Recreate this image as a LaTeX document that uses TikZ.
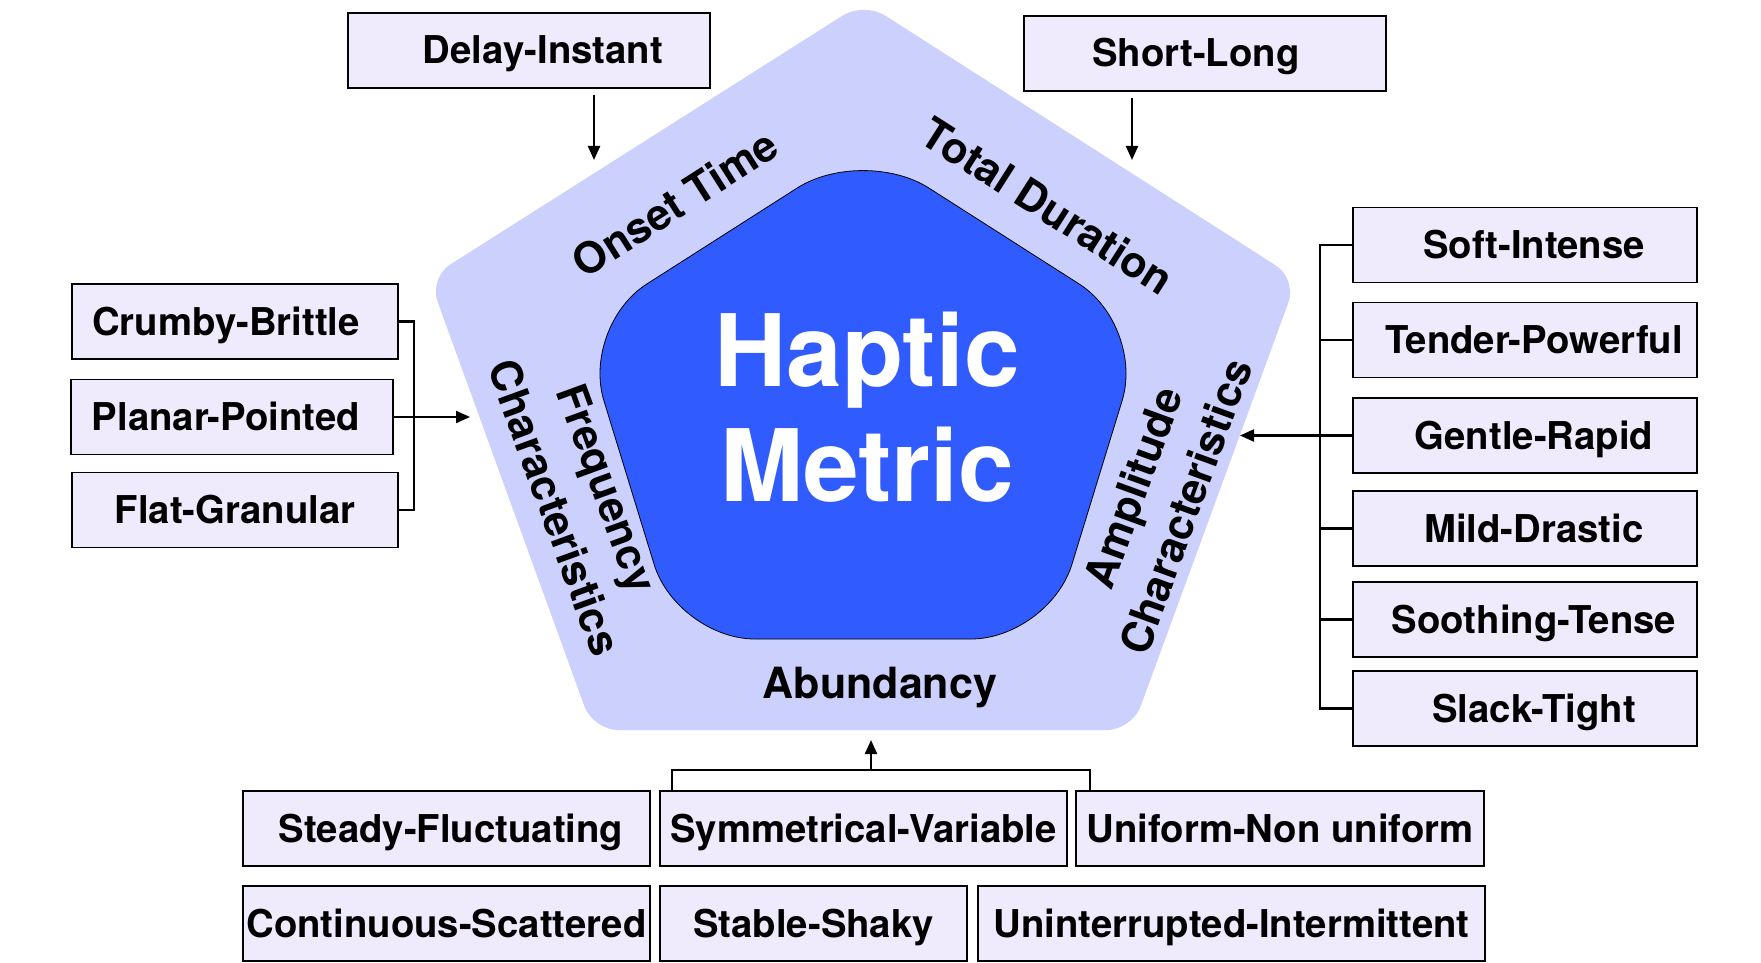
\documentclass[tikz,border=0pt]{standalone}
\usepackage{fontspec}
\setmainfont{TeX Gyre Heros}
\usetikzlibrary{arrows.meta}
\definecolor{outerc}{HTML}{CBD1FC}
\definecolor{innerc}{HTML}{305BFF}
\definecolor{boxc}{HTML}{EFEBFD}
\begin{document}
\begin{tikzpicture}[x=1pt,y=1pt,
  pbox/.style={draw=black, line width=1.3pt, fill=boxc, minimum height=75pt, inner sep=0pt,
    text height=27pt, text depth=0pt, font=\fontsize{38.3}{44}\selectfont\bfseries},
  conn/.style={line width=2.2pt, draw=black},
  arr/.style={conn, -{Triangle[length=14pt,width=12pt]}},
  plabel/.style={font=\fontsize{43}{56}\selectfont\bfseries, align=center, inner sep=0pt},
]
\useasboundingbox (0,0) rectangle (1761,-963);
% outer pentagon
\fill[outerc, rounded corners=25pt] (863,-730) -- (1132,-730) -- (1297,-279) -- (864,-2) -- (429,-278) -- (593,-730) -- cycle;
% inner pentagon
\filldraw[fill=innerc, draw=black, line width=0.8pt, rounded corners=78pt] (863,-639) -- (1049,-639) -- (1145,-326) -- (863,-146) -- (581,-326) -- (677,-639) -- cycle;

\node[font=\fontsize{100}{115}\selectfont\bfseries, text=white, align=center, inner sep=0pt] (hm) at (867,-407) {Haptic\\Metric};

% pentagon labels
\node[plabel, rotate=32.5] (onset) at (675,-203) {Onset Time};
\node[plabel, rotate=-32.5] (total) at (1048,-206) {Total Duration};
\node[plabel] (abund) at (880,-688) {Abundancy};
\node[plabel, rotate=-70] (freq) at (581,-498) {Frequency\\Characteristics};
\node[plabel, rotate=70] (ampl) at (1159,-497) {Amplitude\\Characteristics};

% top boxes
\node[pbox, minimum width=362pt] (dinst) at (529,-50.5) {\hspace*{28pt}Delay-Instant};
\node[pbox, minimum width=362pt] (shlong) at (1205,-53.5) {Short-Long\hspace*{18pt}};

% left boxes
\node[pbox, minimum width=326pt] (crumby) at (235,-321.5) {Crumby-Brittle\hspace*{18pt}};
\node[pbox, minimum width=322pt] (planar) at (232,-417) {Planar-Pointed\hspace*{12pt}};
\node[pbox, minimum width=326pt] (flat) at (235,-510) {Flat-Granular};

% right boxes
\node[pbox, minimum width=344pt] (soft) at (1525,-245) {\hspace*{18pt}Soft-Intense};
\node[pbox, minimum width=344pt] (tender) at (1525,-340) {\hspace*{18pt}Tender-Powerful};
\node[pbox, minimum width=344pt] (gentle) at (1525,-435.5) {\hspace*{18pt}Gentle-Rapid};
\node[pbox, minimum width=344pt] (mild) at (1525,-528.5) {\hspace*{18pt}Mild-Drastic};
\node[pbox, minimum width=344pt] (soothing) at (1525,-619.5) {\hspace*{18pt}Soothing-Tense};
\node[pbox, minimum width=344pt] (slack) at (1525,-708.5) {\hspace*{18pt}Slack-Tight};

% bottom boxes
\node[pbox, minimum width=407pt] (steady) at (446.5,-828.5) {\hspace*{9pt}Steady-Fluctuating};
\node[pbox, minimum width=407pt] (symm) at (863.5,-828.5) {Symmetrical-Variable};
\node[pbox, minimum width=408pt] (uniform) at (1280,-828.5) {Uniform-Non uniform};
\node[pbox, minimum width=407pt] (contin) at (446.5,-923.5) {Continuous-Scattered};
\node[pbox, minimum width=307pt] (stable) at (813.5,-923.5) {Stable-Shaky};
\node[pbox, minimum width=507pt] (uninter) at (1231.5,-923.5) {Uninterrupted-Intermittent};

% coordinates
\coordinate (ontip) at (594,-160);
\coordinate (tdtip) at (1132,-160);
\coordinate (lbr) at (414,0);
\coordinate (freqtip) at (470,0);
\coordinate (rbr) at (1320,0);
\coordinate (amptip) at (1240,0);
\coordinate (bbr) at (0,-770);
\coordinate (symx) at (672,0);
\coordinate (unix) at (1090,0);
\coordinate (abtip) at (871,-740);

% connectors
\draw[arr, shorten <=6pt] (dinst.south -| ontip) -- (ontip);
\draw[arr, shorten <=6pt] (shlong.south -| tdtip) -- (tdtip);

\draw[conn] (crumby.east) -- (crumby.east -| lbr) -- (flat.east -| lbr) -- (flat.east);
\draw[arr] (planar.east) -- (planar.east -| freqtip);

\draw[conn] (soft.west) -- (soft.west -| rbr) -- (slack.west -| rbr) -- (slack.west);
\foreach \n in {tender,mild,soothing} \draw[conn] (\n.west) -- (\n.west -| rbr);
\draw[arr] (gentle.west) -- (gentle.west -| amptip);

\draw[conn] (symx |- symm.north) -- (symx |- bbr) -- (unix |- bbr) -- (unix |- uniform.north);
\draw[arr] (abtip |- bbr) -- (abtip);
\end{tikzpicture}
\end{document}
